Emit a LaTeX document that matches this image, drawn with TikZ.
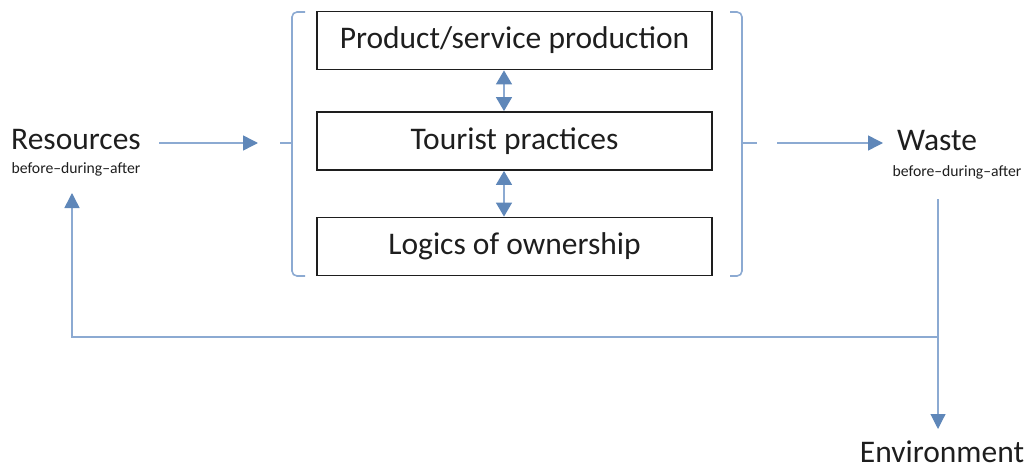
\documentclass[tikz,border=0pt]{standalone}
\usepackage{fontspec}
\setmainfont{Carlito}
\usetikzlibrary{arrows.meta}
\definecolor{flow}{RGB}{140,170,210}
\definecolor{tip}{RGB}{95,135,185}
\definecolor{ink}{RGB}{30,30,30}
\begin{document}
\begin{tikzpicture}[x=1pt,y=-1pt,
  block/.style={draw=ink,line width=1.8pt,minimum width=395pt,minimum height=58pt,inner sep=0pt,
    font=\fontsize{31.5}{34}\selectfont,text=ink},
  lbl/.style={inner sep=0pt,anchor=base,text=ink},
  big/.style={font=\fontsize{31.5}{34}\selectfont},
  small/.style={font=\fontsize{15.7}{18}\selectfont},
  link/.style={draw=flow,line width=1.5pt,-{Triangle[length=15pt,width=15pt,color=tip]}},
  twoway/.style={draw=flow,line width=1.5pt,{Triangle[length=14pt,width=16pt,color=tip]}-{Triangle[length=14pt,width=16pt,color=tip]}},
  brace/.style={draw=flow,line width=1.6pt,rounded corners=5pt}]
\useasboundingbox (0,0) rectangle (1027,468);

% the three stacked blocks
\node[block] (prod) at (514.5,40.5) {Product/service production};
\node[block] (tour) at (514.5,141) {Tourist practices};
\node[block] (own)  at (514.5,246.5) {Logics of ownership};
\draw[twoway] ([xshift=-10.5pt]prod.south) -- ([xshift=-10.5pt]tour.north);
\draw[twoway] ([xshift=-10.5pt]tour.south) -- ([xshift=-10.5pt]own.north);

% brackets around the blocks
\draw[brace] (305,12) -- (292,12) -- (292,276) -- (305,276);
\draw[draw=flow,line width=1.6pt] (292,143) -- (280,143);
\draw[brace] (730,12) -- (742,12) -- (742,276) -- (730,276);
\draw[draw=flow,line width=1.6pt] (742,143) -- (757,143);

% side labels
\node[lbl,big] (res) at (76,149) {Resources};
\node[lbl,small] (ressub) at (76,173) {before–during–after};
\node[lbl,big] (waste) at (937,150) {Waste};
\node[lbl,small] (wastesub) at (957,176) {before–during–after};
\node[lbl,big] (env) at (942,462) {Environment};

% anchor points for the flow lines
\coordinate (inA) at (159,143);
\coordinate (inB) at (258,143);
\coordinate (outA) at (777,143);
\coordinate (outB) at (883,143);
\coordinate (fbTop) at (938,199);
\coordinate (fbJoin) at (938,337);
\coordinate (fbLeft) at (72,337);
\coordinate (resIn) at (72,193);
\coordinate (envIn) at (938,429);

\draw[link] (inA) -- (inB);
\draw[link] (outA) -- (outB);
\draw[draw=flow,line width=1.5pt] (fbTop) -- (fbJoin);
\draw[link] (fbJoin) -- (fbLeft) -- (resIn);
\draw[link,line width=1.1pt] (fbJoin) -- (envIn);
\end{tikzpicture}
\end{document}
